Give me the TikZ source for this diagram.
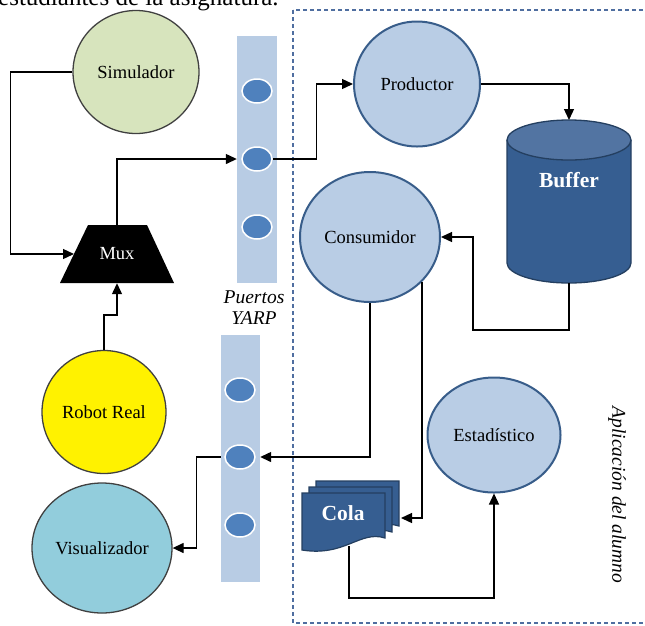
\documentclass[tikz,border=0pt]{standalone}
\usepackage{fontspec}
\setmainfont{Liberation Serif}
\usetikzlibrary{arrows.meta,shapes.geometric,calc}
\definecolor{circFill}{RGB}{185,205,229}
\definecolor{circEdge}{RGB}{56,93,138}
\definecolor{barFill}{RGB}{184,204,228}
\definecolor{dotFill}{RGB}{79,129,189}
\definecolor{simFill}{RGB}{215,228,189}
\definecolor{visFill}{RGB}{146,205,220}
\definecolor{darkEdge}{RGB}{64,64,64}
\definecolor{bufBody}{RGB}{54,94,145}
\definecolor{bufTop}{RGB}{82,116,162}
\definecolor{bufEdge}{RGB}{36,63,96}
\definecolor{colaFill}{RGB}{54,94,145}
\definecolor{colaEdge}{RGB}{36,63,96}
\definecolor{frameCol}{RGB}{79,110,160}
\begin{document}
\begin{tikzpicture}[x=1pt,y=-1pt,
  every node/.style={font=\fontsize{18.5}{20}\selectfont, inner sep=0pt},
  arr/.style={draw=black, line width=1.3pt, -{Triangle[length=11pt,width=10pt]}},
  bubble/.style={ellipse, draw=circEdge, line width=2pt, fill=circFill},
  extbubble/.style={ellipse, draw=darkEdge, line width=1.3pt},
  portbar/.style={rectangle, fill=barFill},
  portdot/.style={ellipse, fill=dotFill, draw=white, line width=1.5pt, minimum width=30pt, minimum height=24pt},
  dashframe/.style={draw=frameCol, line width=1.3pt, dash pattern=on 4pt off 3pt},
  docshape/.style={fill=colaFill, draw=colaEdge, line width=1.2pt},
  whitebold/.style={font=\bfseries\fontsize{21.5}{23}\selectfont, text=white},
  itlabel/.style={font=\itshape\fontsize{19.5}{21}\selectfont}
]
\useasboundingbox (0,0) rectangle (645,625);
\clip (0,0) rectangle (645,625);

% clipped header text
\node[font=\fontsize{25}{27}\selectfont, anchor=base west] (hdr) at (-2,5) {estudiantes de la asignatura.};

% application frame
\draw[dashframe] (293,10) rectangle (660,623);

% external nodes
\node[extbubble, fill=simFill, minimum width=126pt, minimum height=123pt] (sim) at (136,72) {Simulador};
\node[extbubble, fill=yellow, minimum width=124pt, minimum height=123pt] (rob) at (104,412) {Robot Real};
\node[extbubble, fill=visFill, minimum width=140pt, minimum height=130pt] (vis) at (102,548) {Visualizador};

% Mux trapezoid
\fill[black] (88,225) -- (147,225) -- (174,283) -- (60,283) -- cycle;
\node[text=white, minimum width=114pt, minimum height=58pt] (mux) at (117,254) {Mux};
\coordinate (muxL) at (74,254);

% YARP ports
\node[portbar, minimum width=40pt, minimum height=247pt] (bar1) at (257,159.5) {};
\node[portdot] (p1a) at (257,91) {};
\node[portdot] (p1b) at (257,159) {};
\node[portdot] (p1c) at (257,227) {};
\node[portbar, minimum width=39pt, minimum height=247pt] (bar2) at (240.5,458.5) {};
\node[portdot] (p2a) at (240,390) {};
\node[portdot] (p2b) at (240,457) {};
\node[portdot] (p2c) at (240,525) {};
\node[itlabel] (pt) at (254,297) {Puertos};
\node[itlabel] (yarp) at (254,318) {YARP};

% application nodes
\node[bubble, minimum width=126pt, minimum height=125pt] (prod) at (417,84) {Productor};
\node[bubble, minimum width=140pt, minimum height=130pt] (cons) at (370,237) {Consumidor};
\node[bubble, minimum width=133pt, minimum height=115pt] (est) at (494,435) {Estadístico};

% Buffer cylinder
\fill[bufBody] (507,140) -- (507,263) arc[start angle=180, end angle=360, x radius=62pt, y radius=20pt] -- (631,140) -- cycle;
\draw[bufEdge, line width=1.3pt] (507,140) -- (507,263) arc[start angle=180, end angle=360, x radius=62pt, y radius=20pt] -- (631,140);
\filldraw[fill=bufTop, draw=bufEdge, line width=1.3pt] (569,140) ellipse [x radius=62pt, y radius=20pt];
\node[whitebold] (buf) at (569,180) {Buffer};
\coordinate (buftop) at (569,120);
\coordinate (bufbot) at (569,283);

% Cola multi-document
\foreach \dx/\dy in {14/-12, 7/-6, 0/0} {
  \filldraw[docshape, shift={(\dx,\dy)}] (302,493) -- (385,493) -- (385,538)
    .. controls (360,530) and (345,557) .. (302,550) -- cycle;
}
\node[whitebold] (cola) at (343,513) {Cola};
\coordinate (colaR) at (401,518);
\coordinate (colaB) at (349,546);

\node[itlabel, rotate=-90] (app) at (617,495) {Aplicación del alumno};

% connectors
\draw[arr] (sim.west) -- ++(-62,0) |- (muxL);
\draw[arr] (mux.north) |- (bar1.west |- p1b.center);
\draw[arr] (rob.north) -- ++(0,-35) -| (mux.south);
\draw[arr] (bar2.west |- p2b.center) -- ++(-24,0) |- (vis.east);
\draw[arr] (p1b.east) -- ++(44,0) |- (prod.west);
\draw[arr] (prod.east) -| (buftop);
\coordinate (b1) at (473,330);
\draw[arr] (bufbot) |- (b1) |- (cons.east);
\draw[arr] (cons.south) |- (bar2.east |- p2b.center);
\draw[arr] (cons.-41) |- (colaR);
\draw[arr] (colaB) -- ++(0,52) -| (est.south);
\end{tikzpicture}
\end{document}
